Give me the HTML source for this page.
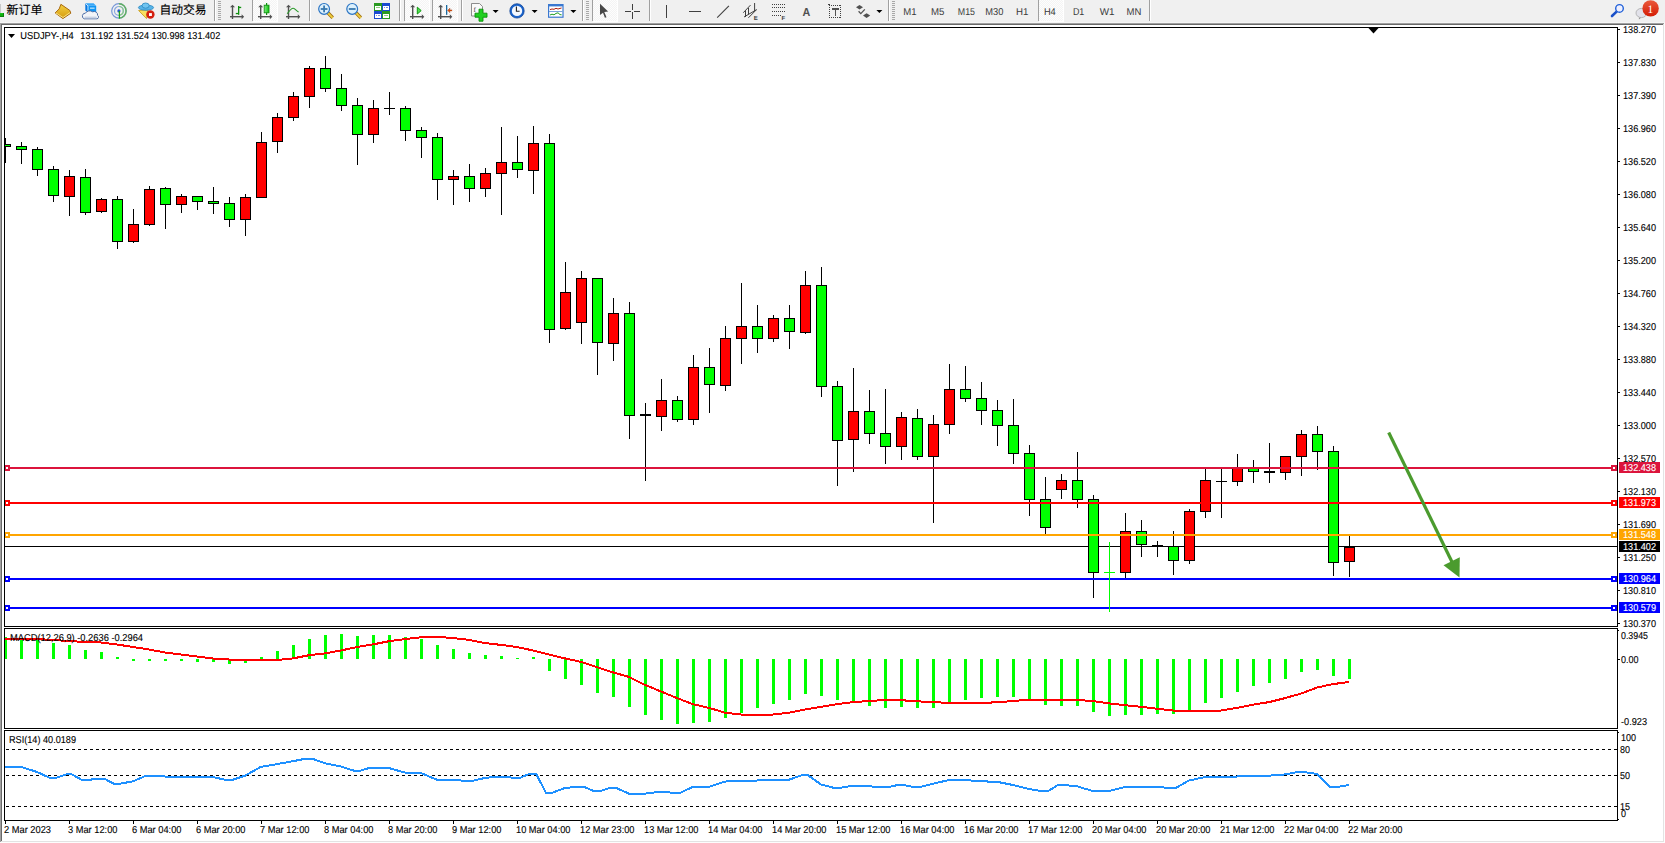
<!DOCTYPE html>
<html><head><meta charset="utf-8"><title>MT4 USDJPY H4</title>
<style>
html,body{margin:0;padding:0;background:#f0f0f0;}
body{width:1665px;height:843px;overflow:hidden;position:relative;}
svg{position:absolute;left:0;top:0;font-family:'Liberation Sans', Arial, sans-serif;text-rendering:geometricPrecision;}
.tx{stroke:currentColor;stroke-width:0.12px;paint-order:stroke;}
</style></head><body>
<svg width="1665" height="843" viewBox="0 0 1665 843" shape-rendering="crispEdges">
<defs><pattern id="dith" x="0" y="0" width="2" height="2" patternUnits="userSpaceOnUse"><rect width="2" height="2" fill="#f4f4f4"/><rect width="1" height="1" fill="#fdfdfd"/><rect x="1" y="1" width="1" height="1" fill="#fdfdfd"/></pattern><linearGradient id="gold" x1="0" y1="0" x2="0" y2="1"><stop offset="0" stop-color="#f4d040"/><stop offset="1" stop-color="#d49a10"/></linearGradient><linearGradient id="badge" x1="0" y1="0" x2="0" y2="1"><stop offset="0" stop-color="#ea5a3c"/><stop offset="1" stop-color="#d41c04"/></linearGradient><linearGradient id="cgreen" x1="0" y1="0" x2="1" y2="0"><stop offset="0" stop-color="#80f080"/><stop offset="1" stop-color="#10c010"/></linearGradient><radialGradient id="sig" cx="0.5" cy="0.5" r="0.5"><stop offset="0" stop-color="#ffffff"/><stop offset="1" stop-color="#d8e8d8"/></radialGradient></defs>
<rect x="0" y="0" width="1665" height="23" fill="#f0f0f0"/>
<rect x="0" y="22" width="1665" height="1" fill="#f6f6f6"/>
<rect x="0" y="4" width="1" height="9" fill="#c8c8c8"/>
<rect x="0" y="13" width="4" height="4" fill="#10b010"/><rect x="0" y="13" width="4" height="1" fill="#18c818"/><rect x="0" y="16" width="4" height="1" fill="#0a800a"/><rect x="3" y="13" width="1" height="4" fill="#0a800a"/>
<text x="6.5" y="14" font-size="12" font-family="'Liberation Sans','Noto Sans CJK SC',sans-serif" fill="#000" stroke="#000" stroke-width="0.15" textLength="36" lengthAdjust="spacingAndGlyphs">新订单</text>
<g shape-rendering="geometricPrecision"><polygon points="60.9,4.3 69.8,10.4 70.8,13.2 62.9,18.6 55.2,12.9 59.2,8.9" fill="url(#gold)" stroke="#a8680c" stroke-width="1"/><polyline points="56,13 63,17.5 70,12.6" fill="none" stroke="#fff2a0" stroke-width="0.8"/></g>
<g shape-rendering="geometricPrecision"><polygon points="85.3,3.3 93.6,3.3 96.2,5.8 87.9,5.8" fill="#3aa8f8"/><polygon points="85.3,3.3 87.9,5.8 87.9,12.5 85.3,10.5" fill="#0a78e0"/><rect x="87.9" y="5.8" width="8.3" height="6.7" fill="#1096f4"/><polyline points="85.6,3.6 88,6 88,12" fill="none" stroke="#e8f6ff" stroke-width="0.8"/><rect x="90" y="7.6" width="4.6" height="1.1" fill="#d8f0ff"/><path d="M84.2,18.8 A2.9,2.9 0 0 1 85.4,13.2 A5,5 0 0 1 92.6,11.8 A3.5,3.5 0 0 1 97.6,15.4 A1.8,1.8 0 0 1 96.9,18.8 Z" fill="#f2f4f8" stroke="#40609c" stroke-width="0.9"/><rect x="84.6" y="16.6" width="12" height="1.8" fill="#c8d2e4"/></g>
<g shape-rendering="geometricPrecision" fill="none"><circle cx="118.9" cy="10.9" r="7.2" stroke="#7898d8" stroke-width="1.2"/><path d="M118.9,3.7 A7.2,7.2 0 0 1 118.9,18.1" stroke="#60b060" stroke-width="1.4"/><circle cx="118.9" cy="10.9" r="4.4" stroke="#8aa8e0" stroke-width="1.2"/><path d="M118.9,6.5 A4.4,4.4 0 0 1 118.9,15.3" stroke="#88c888" stroke-width="1.2"/><circle cx="118.9" cy="10.9" r="1.6" fill="#2a5ad0"/><line x1="119.4" y1="11" x2="119.4" y2="18.6" stroke="#20a020" stroke-width="1.2"/></g>
<g shape-rendering="geometricPrecision"><polygon points="138.6,10.5 148,10 146.5,18.6" fill="#f8e060" stroke="#c89a10" stroke-width="0.8"/><ellipse cx="146" cy="7.6" rx="7.6" ry="2.6" fill="#58b4e8" stroke="#2a88c0" stroke-width="0.8"/><ellipse cx="145.6" cy="5.6" rx="3.6" ry="2.6" fill="#70c4f0" stroke="#2a88c0" stroke-width="0.8"/><circle cx="150.4" cy="14.5" r="4.2" fill="#d42010"/><rect x="149" y="13.1" width="2.9" height="2.9" fill="#fff"/></g>
<text x="159.5" y="14" font-size="12" font-family="'Liberation Sans','Noto Sans CJK SC',sans-serif" fill="#000" stroke="#000" stroke-width="0.15" textLength="47" lengthAdjust="spacingAndGlyphs">自动交易</text>
<rect x="214" y="0" width="1" height="21" fill="#a0a0a0"/><rect x="215" y="0" width="1" height="21" fill="#ffffff"/>
<rect x="218" y="1" width="3" height="1" fill="#a8a8a8"/>
<rect x="218" y="3" width="3" height="1" fill="#a8a8a8"/>
<rect x="218" y="5" width="3" height="1" fill="#a8a8a8"/>
<rect x="218" y="7" width="3" height="1" fill="#a8a8a8"/>
<rect x="218" y="9" width="3" height="1" fill="#a8a8a8"/>
<rect x="218" y="11" width="3" height="1" fill="#a8a8a8"/>
<rect x="218" y="13" width="3" height="1" fill="#a8a8a8"/>
<rect x="218" y="15" width="3" height="1" fill="#a8a8a8"/>
<rect x="218" y="17" width="3" height="1" fill="#a8a8a8"/>
<rect x="218" y="19" width="3" height="1" fill="#a8a8a8"/>
<g shape-rendering="geometricPrecision">
<g fill="#505050"><rect x="231.8" y="6" width="1.4" height="13"/><polygon points="230.0,7.2 232.5,4.7 235.0,7.2" /><rect x="230" y="16" width="12.800000000000011" height="1.4"/><polygon points="241.60000000000002,14.2 244.10000000000002,16.7 241.60000000000002,19.2"/></g>
<g fill="#109010"><rect x="238" y="6" width="1.3" height="8.8"/><rect x="238.6" y="6.8" width="2.6" height="1.3"/><rect x="235.8" y="12.9" width="2.6" height="1.3"/></g>
</g>
<rect x="252" y="0" width="1" height="21" fill="#a0a0a0"/><rect x="253" y="0" width="1" height="21" fill="#ffffff"/>
<rect x="253" y="0" width="24" height="21" fill="url(#dith)"/>
<rect x="253" y="21" width="25" height="1" fill="#ffffff"/><rect x="277" y="0" width="1" height="21" fill="#ffffff"/>
<g shape-rendering="geometricPrecision">
<g fill="#505050"><rect x="260" y="6" width="1.4" height="13"/><polygon points="258.2,7.2 260.7,4.7 263.2,7.2" /><rect x="258" y="16" width="13" height="1.4"/><polygon points="269.8,14.2 272.3,16.7 269.8,19.2"/></g>
<rect x="266" y="3" width="1.2" height="12" fill="#109010"/><rect x="264.2" y="5.2" width="4.8" height="7.6" fill="url(#cgreen)" stroke="#109010" stroke-width="0.9"/>
<g fill="#505050"><rect x="287.8" y="6" width="1.4" height="13"/><polygon points="286.0,7.2 288.5,4.7 291.0,7.2" /><rect x="286" y="16" width="13" height="1.4"/><polygon points="297.8,14.2 300.3,16.7 297.8,19.2"/></g>
<path d="M287.2,13.8 C289.5,10.5 291.5,8.2 293.2,8.2 C295,8.2 296.5,11 298.6,12" fill="none" stroke="#2a9a2a" stroke-width="1.1"/>
</g>
<rect x="309" y="0" width="1" height="21" fill="#a0a0a0"/><rect x="310" y="0" width="1" height="21" fill="#ffffff"/>
<g shape-rendering="geometricPrecision"><line x1="327.90000000000003" y1="12.8" x2="332.70000000000005" y2="17.8" stroke="#a07010" stroke-width="3.4"/><line x1="327.90000000000003" y1="12.8" x2="332.70000000000005" y2="17.8" stroke="#f0d040" stroke-width="1.8"/><circle cx="324.1" cy="8.9" r="5.4" fill="#dcf0fc" stroke="#2a74c4" stroke-width="1.2"/><rect x="320.70000000000005" y="8.1" width="6.8" height="1.8" fill="#3878b0"/><rect x="323.20000000000005" y="5.5" width="1.8" height="6.8" fill="#3878b0"/></g>
<g shape-rendering="geometricPrecision"><line x1="356.0" y1="12.8" x2="360.8" y2="17.8" stroke="#a07010" stroke-width="3.4"/><line x1="356.0" y1="12.8" x2="360.8" y2="17.8" stroke="#f0d040" stroke-width="1.8"/><circle cx="352.2" cy="8.9" r="5.4" fill="#dcf0fc" stroke="#2a74c4" stroke-width="1.2"/><rect x="348.8" y="8.1" width="6.8" height="1.8" fill="#3878b0"/></g>
<g><rect x="374" y="3" width="8" height="8" fill="#2a9a20"/><rect x="382" y="3" width="8" height="8" fill="#1a4ad0"/><rect x="374" y="11" width="8" height="8" fill="#1a4ad0"/><rect x="382" y="11" width="8" height="8" fill="#2a9a20"/><rect x="375" y="6" width="6" height="4" fill="#fff"/><rect x="383" y="6" width="6" height="4" fill="#fff"/><rect x="375" y="14" width="6" height="4" fill="#fff"/><rect x="383" y="14" width="6" height="4" fill="#fff"/><rect x="376" y="7" width="4" height="1" fill="#90d080"/><rect x="384" y="15" width="4" height="1" fill="#90d080"/><rect x="384" y="7" width="1" height="1" fill="#8090e0"/><rect x="386" y="7" width="2" height="1" fill="#8090e0"/><rect x="376" y="15" width="1" height="1" fill="#8090e0"/><rect x="378" y="15" width="2" height="1" fill="#8090e0"/></g>
<rect x="399" y="0" width="1" height="21" fill="#a0a0a0"/><rect x="400" y="0" width="1" height="21" fill="#ffffff"/>
<rect x="404" y="0" width="1" height="21" fill="#a0a0a0"/><rect x="405" y="0" width="1" height="21" fill="#ffffff"/>
<rect x="405" y="0" width="24" height="21" fill="url(#dith)"/>
<rect x="405" y="21" width="25" height="1" fill="#ffffff"/><rect x="429" y="0" width="1" height="21" fill="#ffffff"/>
<g shape-rendering="geometricPrecision">
<g fill="#505050"><rect x="412" y="6" width="1.4" height="13"/><polygon points="410.2,7.2 412.7,4.7 415.2,7.2" /><rect x="410" y="16" width="13" height="1.4"/><polygon points="421.8,14.2 424.3,16.7 421.8,19.2"/></g>
<polygon points="417.3,7.2 421.2,10.6 417.3,14" fill="#50e050" stroke="#109a10" stroke-width="1"/>
</g>
<rect x="432" y="0" width="1" height="21" fill="#a0a0a0"/><rect x="433" y="0" width="1" height="21" fill="#ffffff"/>
<rect x="433" y="0" width="24" height="21" fill="url(#dith)"/>
<rect x="433" y="21" width="25" height="1" fill="#ffffff"/><rect x="457" y="0" width="1" height="21" fill="#ffffff"/>
<g shape-rendering="geometricPrecision">
<g fill="#505050"><rect x="440" y="6" width="1.4" height="13"/><polygon points="438.2,7.2 440.7,4.7 443.2,7.2" /><rect x="438" y="16" width="13" height="1.4"/><polygon points="449.8,14.2 452.3,16.7 449.8,19.2"/></g>
<rect x="446" y="5" width="1.3" height="9.8" fill="#1a6aa0"/>
<polygon points="447.6,10.4 450,8.2 449.3,9.9 451.8,9.9 451.8,10.9 449.3,10.9 450,12.6" fill="#f06010" stroke="#a03000" stroke-width="0.5"/>
</g>
<rect x="461" y="0" width="1" height="21" fill="#a0a0a0"/><rect x="462" y="0" width="1" height="21" fill="#ffffff"/>
<g shape-rendering="geometricPrecision"><path d="M471.5,3.5 L479.5,3.5 L482.5,6.5 L482.5,16 L471.5,16 Z" fill="#fafafa" stroke="#808080" stroke-width="0.9"/><text x="473.5" y="12" font-size="7" font-family="Liberation Serif" fill="#404040">f</text><path d="M479,9.2 h4 v4 h4 v4 h-4 v4 h-4 v-4 h-4 v-4 h4 z" fill="#20d020" stroke="#0a900a" stroke-width="0.9"/></g>
<polygon points="492.6,10 498.6,10 495.6,13" fill="#000" shape-rendering="geometricPrecision"/>
<g shape-rendering="geometricPrecision"><circle cx="517" cy="10.9" r="7.2" fill="#1a64cc"/><circle cx="517" cy="10.9" r="5.2" fill="#f4f8ff"/><circle cx="517" cy="10.9" r="7.2" fill="none" stroke="#0a3c90" stroke-width="0.7"/><polyline points="516.4,6.6 516.4,11.2 519.6,11.2" fill="none" stroke="#202020" stroke-width="1.1"/></g>
<polygon points="531.6,10 537.6,10 534.6,13" fill="#000" shape-rendering="geometricPrecision"/>
<g shape-rendering="geometricPrecision"><rect x="548" y="4" width="15.6" height="13.8" fill="#3a78d0"/><rect x="549.2" y="6.4" width="13.2" height="10.2" fill="#fff"/><rect x="549" y="11" width="13.4" height="0.9" fill="#6a9ad8"/><polyline points="550,9.6 552,9 554,9.3 556,8.3 558,9 560,8.4 561.6,8" fill="none" stroke="#b02010" stroke-width="1"/><polyline points="550,15 552,14.2 554,14.8 556,13.4 558,12.8 560,14.6 561.6,14.8" fill="none" stroke="#20a020" stroke-width="1"/></g>
<polygon points="570.4,10 576.4,10 573.4,13" fill="#000" shape-rendering="geometricPrecision"/>
<rect x="582" y="0" width="1" height="21" fill="#a0a0a0"/><rect x="583" y="0" width="1" height="21" fill="#ffffff"/>
<rect x="586" y="1" width="3" height="1" fill="#a8a8a8"/>
<rect x="586" y="3" width="3" height="1" fill="#a8a8a8"/>
<rect x="586" y="5" width="3" height="1" fill="#a8a8a8"/>
<rect x="586" y="7" width="3" height="1" fill="#a8a8a8"/>
<rect x="586" y="9" width="3" height="1" fill="#a8a8a8"/>
<rect x="586" y="11" width="3" height="1" fill="#a8a8a8"/>
<rect x="586" y="13" width="3" height="1" fill="#a8a8a8"/>
<rect x="586" y="15" width="3" height="1" fill="#a8a8a8"/>
<rect x="586" y="17" width="3" height="1" fill="#a8a8a8"/>
<rect x="586" y="19" width="3" height="1" fill="#a8a8a8"/>
<rect x="592" y="0" width="1" height="21" fill="#a0a0a0"/><rect x="593" y="0" width="1" height="21" fill="#ffffff"/>
<rect x="593" y="0" width="24" height="21" fill="url(#dith)"/>
<rect x="593" y="21" width="25" height="1" fill="#ffffff"/><rect x="617" y="0" width="1" height="21" fill="#ffffff"/>
<polygon points="600,3.8 600,14.9 603,12.7 604.9,17.8 606.5,17.3 604.3,11.9 608.1,11.6" fill="#484848" shape-rendering="geometricPrecision"/>
<g fill="#404040"><rect x="632" y="4" width="1.4" height="6.4"/><rect x="632" y="12.4" width="1.4" height="6.6"/><rect x="625" y="10.8" width="6.4" height="1.4"/><rect x="634" y="10.8" width="6.2" height="1.4"/></g>
<rect x="649" y="0" width="1" height="21" fill="#a0a0a0"/><rect x="650" y="0" width="1" height="21" fill="#ffffff"/>
<rect x="666" y="5" width="1.4" height="13" fill="#404040"/>
<rect x="689" y="10.8" width="12" height="1.4" fill="#404040"/>
<line x1="717.2" y1="17.6" x2="728.9" y2="5.8" stroke="#404040" stroke-width="1.1" shape-rendering="geometricPrecision"/>
<g shape-rendering="geometricPrecision" stroke="#404040" stroke-width="1" fill="none"><line x1="743.3" y1="12.7" x2="750.5" y2="5.1"/><line x1="744" y1="17" x2="756.8" y2="9.5"/><line x1="748.4" y1="17.8" x2="756" y2="10.2"/><line x1="745.5" y1="10.5" x2="745.5" y2="17"/><line x1="748.5" y1="8" x2="748.5" y2="14.5"/><line x1="754.6" y1="3" x2="754.6" y2="11"/></g>
<text x="753.8" y="19.6" font-size="6" font-weight="bold" fill="#404040" font-family="Liberation Sans">E</text>
<rect x="772" y="4" width="1" height="1" fill="#404040"/>
<rect x="774" y="4" width="1" height="1" fill="#404040"/>
<rect x="776" y="4" width="1" height="1" fill="#404040"/>
<rect x="778" y="4" width="1" height="1" fill="#404040"/>
<rect x="780" y="4" width="1" height="1" fill="#404040"/>
<rect x="782" y="4" width="1" height="1" fill="#404040"/>
<rect x="784" y="4" width="1" height="1" fill="#404040"/>
<rect x="772" y="7" width="1" height="1" fill="#404040"/>
<rect x="774" y="7" width="1" height="1" fill="#404040"/>
<rect x="776" y="7" width="1" height="1" fill="#404040"/>
<rect x="778" y="7" width="1" height="1" fill="#404040"/>
<rect x="780" y="7" width="1" height="1" fill="#404040"/>
<rect x="782" y="7" width="1" height="1" fill="#404040"/>
<rect x="784" y="7" width="1" height="1" fill="#404040"/>
<rect x="772" y="11" width="1" height="1" fill="#404040"/>
<rect x="774" y="11" width="1" height="1" fill="#404040"/>
<rect x="776" y="11" width="1" height="1" fill="#404040"/>
<rect x="778" y="11" width="1" height="1" fill="#404040"/>
<rect x="780" y="11" width="1" height="1" fill="#404040"/>
<rect x="782" y="11" width="1" height="1" fill="#404040"/>
<rect x="784" y="11" width="1" height="1" fill="#404040"/>
<rect x="772" y="15" width="1" height="1" fill="#404040"/>
<rect x="774" y="15" width="1" height="1" fill="#404040"/>
<rect x="776" y="15" width="1" height="1" fill="#404040"/>
<rect x="778" y="15" width="1" height="1" fill="#404040"/>
<rect x="780" y="15" width="1" height="1" fill="#404040"/>
<text x="781.5" y="19.6" font-size="6" font-weight="bold" fill="#404040" font-family="Liberation Sans">F</text>
<text x="802.6" y="16" font-size="11.5" font-weight="bold" fill="#505050" font-family="Liberation Sans" textLength="7.8" lengthAdjust="spacingAndGlyphs">A</text>
<rect x="829" y="5" width="1" height="1" fill="#404040"/><rect x="829" y="17" width="1" height="1" fill="#404040"/>
<rect x="831" y="5" width="1" height="1" fill="#404040"/><rect x="831" y="17" width="1" height="1" fill="#404040"/>
<rect x="833" y="5" width="1" height="1" fill="#404040"/><rect x="833" y="17" width="1" height="1" fill="#404040"/>
<rect x="835" y="5" width="1" height="1" fill="#404040"/><rect x="835" y="17" width="1" height="1" fill="#404040"/>
<rect x="837" y="5" width="1" height="1" fill="#404040"/><rect x="837" y="17" width="1" height="1" fill="#404040"/>
<rect x="839" y="5" width="1" height="1" fill="#404040"/><rect x="839" y="17" width="1" height="1" fill="#404040"/>
<rect x="829" y="5" width="1" height="1" fill="#404040"/><rect x="840" y="5" width="1" height="1" fill="#404040"/>
<rect x="829" y="7" width="1" height="1" fill="#404040"/><rect x="840" y="7" width="1" height="1" fill="#404040"/>
<rect x="829" y="9" width="1" height="1" fill="#404040"/><rect x="840" y="9" width="1" height="1" fill="#404040"/>
<rect x="829" y="11" width="1" height="1" fill="#404040"/><rect x="840" y="11" width="1" height="1" fill="#404040"/>
<rect x="829" y="13" width="1" height="1" fill="#404040"/><rect x="840" y="13" width="1" height="1" fill="#404040"/>
<rect x="829" y="15" width="1" height="1" fill="#404040"/><rect x="840" y="15" width="1" height="1" fill="#404040"/>
<rect x="829" y="17" width="1" height="1" fill="#404040"/><rect x="840" y="17" width="1" height="1" fill="#404040"/>
<rect x="828" y="4" width="2" height="1" fill="#404040"/>
<g fill="#505050"><rect x="832" y="8" width="7" height="1.6"/><rect x="834.7" y="8" width="1.6" height="8"/></g>
<g shape-rendering="geometricPrecision" fill="#505050"><polygon points="859.5,5 863,7.3 859.5,9.5 856,7.3"/><polygon points="866.6,13.2 870.2,15.6 866.6,18 863,15.6"/><polyline points="858.6,11.2 860.8,13.6 864.8,9.4" fill="none" stroke="#505050" stroke-width="1.3"/></g>
<polygon points="876.4,10 882.4,10 879.4,13" fill="#000" shape-rendering="geometricPrecision"/>
<rect x="888" y="0" width="1" height="21" fill="#a0a0a0"/><rect x="889" y="0" width="1" height="21" fill="#ffffff"/>
<rect x="892" y="1" width="3" height="1" fill="#a8a8a8"/>
<rect x="892" y="3" width="3" height="1" fill="#a8a8a8"/>
<rect x="892" y="5" width="3" height="1" fill="#a8a8a8"/>
<rect x="892" y="7" width="3" height="1" fill="#a8a8a8"/>
<rect x="892" y="9" width="3" height="1" fill="#a8a8a8"/>
<rect x="892" y="11" width="3" height="1" fill="#a8a8a8"/>
<rect x="892" y="13" width="3" height="1" fill="#a8a8a8"/>
<rect x="892" y="15" width="3" height="1" fill="#a8a8a8"/>
<rect x="892" y="17" width="3" height="1" fill="#a8a8a8"/>
<rect x="892" y="19" width="3" height="1" fill="#a8a8a8"/>
<rect x="1039" y="0" width="24" height="21" fill="url(#dith)"/>
<rect x="1039" y="21" width="25" height="1" fill="#ffffff"/><rect x="1063" y="0" width="1" height="21" fill="#ffffff"/>
<rect x="1038" y="0" width="1" height="21" fill="#a0a0a0"/>
<text x="903.2" y="15" font-size="10" font-family="Liberation Sans" fill="#3a3a3a" textLength="13.3" lengthAdjust="spacingAndGlyphs">M1</text>
<text x="931" y="15" font-size="10" font-family="Liberation Sans" fill="#3a3a3a" textLength="13.4" lengthAdjust="spacingAndGlyphs">M5</text>
<text x="957.8" y="15" font-size="10" font-family="Liberation Sans" fill="#3a3a3a" textLength="17.2" lengthAdjust="spacingAndGlyphs">M15</text>
<text x="985.3" y="15" font-size="10" font-family="Liberation Sans" fill="#3a3a3a" textLength="18.1" lengthAdjust="spacingAndGlyphs">M30</text>
<text x="1016" y="15" font-size="10" font-family="Liberation Sans" fill="#3a3a3a" textLength="12.4" lengthAdjust="spacingAndGlyphs">H1</text>
<text x="1043.9" y="15" font-size="10" font-family="Liberation Sans" fill="#3a3a3a" textLength="11.9" lengthAdjust="spacingAndGlyphs">H4</text>
<text x="1072.9" y="15" font-size="10" font-family="Liberation Sans" fill="#3a3a3a" textLength="11.4" lengthAdjust="spacingAndGlyphs">D1</text>
<text x="1099.7" y="15" font-size="10" font-family="Liberation Sans" fill="#3a3a3a" textLength="14.8" lengthAdjust="spacingAndGlyphs">W1</text>
<text x="1126.6" y="15" font-size="10" font-family="Liberation Sans" fill="#3a3a3a" textLength="14.8" lengthAdjust="spacingAndGlyphs">MN</text>
<rect x="1149" y="0" width="1" height="21" fill="#a0a0a0"/><rect x="1150" y="0" width="1" height="21" fill="#ffffff"/>
<g shape-rendering="geometricPrecision"><line x1="1616.6" y1="11.6" x2="1612" y2="16" stroke="#1a50c8" stroke-width="2.6" stroke-linecap="round"/><circle cx="1619.5" cy="8.4" r="3.8" fill="#eef0ff" stroke="#2060d8" stroke-width="1.4"/></g>
<g shape-rendering="geometricPrecision"><path d="M1639,17.5 L1638.8,19.6 L1641.5,17.6 Z" fill="#909090"/><ellipse cx="1641.4" cy="13" rx="5.4" ry="4.6" fill="#e2e2ea" stroke="#a8a8a8" stroke-width="0.8"/><circle cx="1650.6" cy="8.4" r="8.2" fill="url(#badge)"/><text x="1650.4" y="12.9" font-size="11.5" font-family="Liberation Serif" fill="#ffffff" text-anchor="middle">1</text></g>
<rect x="0" y="23" width="1665" height="820" fill="#ffffff"/>
<rect x="0" y="23" width="1664" height="1" fill="#a0a0a0"/>
<rect x="0" y="23" width="1" height="819" fill="#a0a0a0"/>
<rect x="1" y="24" width="1662" height="1" fill="#696969"/>
<rect x="1" y="24" width="1" height="817" fill="#696969"/>
<rect x="1663" y="24" width="1" height="818" fill="#e3e3e3"/>
<rect x="1" y="841" width="1663" height="1" fill="#e3e3e3"/>
<rect x="1664" y="23" width="1" height="820" fill="#fdfdfd"/>
<rect x="0" y="842" width="1665" height="1" fill="#fdfdfd"/>
<defs><clipPath id="cm"><rect x="5" y="28" width="1612" height="598"/></clipPath><clipPath id="cmacd"><rect x="5" y="629" width="1612" height="99"/></clipPath><clipPath id="crsi"><rect x="5" y="731" width="1612" height="89"/></clipPath></defs>
<g clip-path="url(#cm)">
<rect x="5" y="546" width="1612" height="1" fill="#000"/>
<rect x="5" y="138" width="1" height="25" fill="#000"/>
<rect x="21" y="142" width="1" height="22" fill="#000"/>
<rect x="37" y="147" width="1" height="29" fill="#000"/>
<rect x="53" y="166" width="1" height="36" fill="#000"/>
<rect x="69" y="170" width="1" height="46" fill="#000"/>
<rect x="85" y="169" width="1" height="46" fill="#000"/>
<rect x="101" y="198" width="1" height="15" fill="#000"/>
<rect x="117" y="196" width="1" height="53" fill="#000"/>
<rect x="133" y="209" width="1" height="34" fill="#000"/>
<rect x="149" y="186" width="1" height="40" fill="#000"/>
<rect x="165" y="187" width="1" height="42" fill="#000"/>
<rect x="181" y="194" width="1" height="19" fill="#000"/>
<rect x="197" y="196" width="1" height="14" fill="#000"/>
<rect x="213" y="187" width="1" height="27" fill="#000"/>
<rect x="229" y="197" width="1" height="30" fill="#000"/>
<rect x="245" y="194" width="1" height="42" fill="#000"/>
<rect x="261" y="132" width="1" height="65" fill="#000"/>
<rect x="277" y="113" width="1" height="40" fill="#000"/>
<rect x="293" y="92" width="1" height="29" fill="#000"/>
<rect x="309" y="66" width="1" height="42" fill="#000"/>
<rect x="325" y="56" width="1" height="36" fill="#000"/>
<rect x="341" y="74" width="1" height="37" fill="#000"/>
<rect x="357" y="98" width="1" height="67" fill="#000"/>
<rect x="373" y="100" width="1" height="43" fill="#000"/>
<rect x="389" y="92" width="1" height="23" fill="#000"/>
<rect x="405" y="106" width="1" height="35" fill="#000"/>
<rect x="421" y="127" width="1" height="31" fill="#000"/>
<rect x="437" y="133" width="1" height="67" fill="#000"/>
<rect x="453" y="170" width="1" height="35" fill="#000"/>
<rect x="469" y="164" width="1" height="38" fill="#000"/>
<rect x="485" y="168" width="1" height="29" fill="#000"/>
<rect x="501" y="127" width="1" height="88" fill="#000"/>
<rect x="517" y="136" width="1" height="42" fill="#000"/>
<rect x="533" y="126" width="1" height="68" fill="#000"/>
<rect x="549" y="134" width="1" height="209" fill="#000"/>
<rect x="565" y="262" width="1" height="68" fill="#000"/>
<rect x="581" y="271" width="1" height="73" fill="#000"/>
<rect x="597" y="278" width="1" height="97" fill="#000"/>
<rect x="613" y="298" width="1" height="63" fill="#000"/>
<rect x="629" y="302" width="1" height="137" fill="#000"/>
<rect x="645" y="403" width="1" height="78" fill="#000"/>
<rect x="661" y="379" width="1" height="52" fill="#000"/>
<rect x="677" y="396" width="1" height="26" fill="#000"/>
<rect x="693" y="355" width="1" height="70" fill="#000"/>
<rect x="709" y="348" width="1" height="65" fill="#000"/>
<rect x="725" y="326" width="1" height="65" fill="#000"/>
<rect x="741" y="283" width="1" height="81" fill="#000"/>
<rect x="757" y="305" width="1" height="48" fill="#000"/>
<rect x="773" y="315" width="1" height="27" fill="#000"/>
<rect x="789" y="305" width="1" height="44" fill="#000"/>
<rect x="805" y="271" width="1" height="63" fill="#000"/>
<rect x="821" y="267" width="1" height="130" fill="#000"/>
<rect x="837" y="381" width="1" height="105" fill="#000"/>
<rect x="853" y="368" width="1" height="104" fill="#000"/>
<rect x="869" y="390" width="1" height="54" fill="#000"/>
<rect x="885" y="389" width="1" height="75" fill="#000"/>
<rect x="901" y="412" width="1" height="48" fill="#000"/>
<rect x="917" y="409" width="1" height="51" fill="#000"/>
<rect x="933" y="415" width="1" height="108" fill="#000"/>
<rect x="949" y="364" width="1" height="70" fill="#000"/>
<rect x="965" y="366" width="1" height="36" fill="#000"/>
<rect x="981" y="382" width="1" height="43" fill="#000"/>
<rect x="997" y="400" width="1" height="46" fill="#000"/>
<rect x="1013" y="399" width="1" height="65" fill="#000"/>
<rect x="1029" y="445" width="1" height="71" fill="#000"/>
<rect x="1045" y="477" width="1" height="57" fill="#000"/>
<rect x="1061" y="474" width="1" height="25" fill="#000"/>
<rect x="1077" y="452" width="1" height="56" fill="#000"/>
<rect x="1093" y="495" width="1" height="103" fill="#000"/>
<rect x="1125" y="513" width="1" height="65" fill="#000"/>
<rect x="1141" y="520" width="1" height="37" fill="#000"/>
<rect x="1157" y="541" width="1" height="16" fill="#000"/>
<rect x="1173" y="531" width="1" height="44" fill="#000"/>
<rect x="1189" y="509" width="1" height="55" fill="#000"/>
<rect x="1205" y="469" width="1" height="49" fill="#000"/>
<rect x="1221" y="469" width="1" height="49" fill="#000"/>
<rect x="1237" y="454" width="1" height="32" fill="#000"/>
<rect x="1253" y="460" width="1" height="23" fill="#000"/>
<rect x="1269" y="443" width="1" height="40" fill="#000"/>
<rect x="1285" y="456" width="1" height="24" fill="#000"/>
<rect x="1301" y="430" width="1" height="46" fill="#000"/>
<rect x="1317" y="426" width="1" height="44" fill="#000"/>
<rect x="1333" y="446" width="1" height="130" fill="#000"/>
<rect x="1349" y="536" width="1" height="41" fill="#000"/>
<rect x="0" y="144" width="11" height="3" fill="#000"/>
<rect x="1" y="145" width="9" height="1" fill="#00ff00"/>
<rect x="16" y="146" width="11" height="4" fill="#000"/>
<rect x="17" y="147" width="9" height="2" fill="#00ff00"/>
<rect x="32" y="149" width="11" height="21" fill="#000"/>
<rect x="33" y="150" width="9" height="19" fill="#00ff00"/>
<rect x="48" y="169" width="11" height="27" fill="#000"/>
<rect x="49" y="170" width="9" height="25" fill="#00ff00"/>
<rect x="64" y="176" width="11" height="21" fill="#000"/>
<rect x="65" y="177" width="9" height="19" fill="#ff0000"/>
<rect x="80" y="177" width="11" height="36" fill="#000"/>
<rect x="81" y="178" width="9" height="34" fill="#00ff00"/>
<rect x="96" y="199" width="11" height="13" fill="#000"/>
<rect x="97" y="200" width="9" height="11" fill="#ff0000"/>
<rect x="112" y="199" width="11" height="43" fill="#000"/>
<rect x="113" y="200" width="9" height="41" fill="#00ff00"/>
<rect x="128" y="224" width="11" height="18" fill="#000"/>
<rect x="129" y="225" width="9" height="16" fill="#ff0000"/>
<rect x="144" y="189" width="11" height="36" fill="#000"/>
<rect x="145" y="190" width="9" height="34" fill="#ff0000"/>
<rect x="160" y="188" width="11" height="17" fill="#000"/>
<rect x="161" y="189" width="9" height="15" fill="#00ff00"/>
<rect x="176" y="196" width="11" height="9" fill="#000"/>
<rect x="177" y="197" width="9" height="7" fill="#ff0000"/>
<rect x="192" y="196" width="11" height="6" fill="#000"/>
<rect x="193" y="197" width="9" height="4" fill="#00ff00"/>
<rect x="208" y="201" width="11" height="3" fill="#000"/>
<rect x="209" y="202" width="9" height="1" fill="#00ff00"/>
<rect x="224" y="203" width="11" height="17" fill="#000"/>
<rect x="225" y="204" width="9" height="15" fill="#00ff00"/>
<rect x="240" y="197" width="11" height="23" fill="#000"/>
<rect x="241" y="198" width="9" height="21" fill="#ff0000"/>
<rect x="256" y="142" width="11" height="56" fill="#000"/>
<rect x="257" y="143" width="9" height="54" fill="#ff0000"/>
<rect x="272" y="117" width="11" height="25" fill="#000"/>
<rect x="273" y="118" width="9" height="23" fill="#ff0000"/>
<rect x="288" y="96" width="11" height="22" fill="#000"/>
<rect x="289" y="97" width="9" height="20" fill="#ff0000"/>
<rect x="304" y="68" width="11" height="29" fill="#000"/>
<rect x="305" y="69" width="9" height="27" fill="#ff0000"/>
<rect x="320" y="68" width="11" height="21" fill="#000"/>
<rect x="321" y="69" width="9" height="19" fill="#00ff00"/>
<rect x="336" y="88" width="11" height="18" fill="#000"/>
<rect x="337" y="89" width="9" height="16" fill="#00ff00"/>
<rect x="352" y="105" width="11" height="30" fill="#000"/>
<rect x="353" y="106" width="9" height="28" fill="#00ff00"/>
<rect x="368" y="108" width="11" height="27" fill="#000"/>
<rect x="369" y="109" width="9" height="25" fill="#ff0000"/>
<rect x="384" y="108" width="11" height="1" fill="#000"/>
<rect x="400" y="108" width="11" height="23" fill="#000"/>
<rect x="401" y="109" width="9" height="21" fill="#00ff00"/>
<rect x="416" y="130" width="11" height="8" fill="#000"/>
<rect x="417" y="131" width="9" height="6" fill="#00ff00"/>
<rect x="432" y="137" width="11" height="43" fill="#000"/>
<rect x="433" y="138" width="9" height="41" fill="#00ff00"/>
<rect x="448" y="176" width="11" height="4" fill="#000"/>
<rect x="449" y="177" width="9" height="2" fill="#ff0000"/>
<rect x="464" y="176" width="11" height="13" fill="#000"/>
<rect x="465" y="177" width="9" height="11" fill="#00ff00"/>
<rect x="480" y="173" width="11" height="16" fill="#000"/>
<rect x="481" y="174" width="9" height="14" fill="#ff0000"/>
<rect x="496" y="162" width="11" height="12" fill="#000"/>
<rect x="497" y="163" width="9" height="10" fill="#ff0000"/>
<rect x="512" y="162" width="11" height="8" fill="#000"/>
<rect x="513" y="163" width="9" height="6" fill="#00ff00"/>
<rect x="528" y="143" width="11" height="28" fill="#000"/>
<rect x="529" y="144" width="9" height="26" fill="#ff0000"/>
<rect x="544" y="143" width="11" height="187" fill="#000"/>
<rect x="545" y="144" width="9" height="185" fill="#00ff00"/>
<rect x="560" y="292" width="11" height="37" fill="#000"/>
<rect x="561" y="293" width="9" height="35" fill="#ff0000"/>
<rect x="576" y="278" width="11" height="45" fill="#000"/>
<rect x="577" y="279" width="9" height="43" fill="#ff0000"/>
<rect x="592" y="278" width="11" height="65" fill="#000"/>
<rect x="593" y="279" width="9" height="63" fill="#00ff00"/>
<rect x="608" y="313" width="11" height="31" fill="#000"/>
<rect x="609" y="314" width="9" height="29" fill="#ff0000"/>
<rect x="624" y="313" width="11" height="103" fill="#000"/>
<rect x="625" y="314" width="9" height="101" fill="#00ff00"/>
<rect x="640" y="414" width="11" height="2" fill="#000"/>
<rect x="656" y="400" width="11" height="17" fill="#000"/>
<rect x="657" y="401" width="9" height="15" fill="#ff0000"/>
<rect x="672" y="400" width="11" height="20" fill="#000"/>
<rect x="673" y="401" width="9" height="18" fill="#00ff00"/>
<rect x="688" y="367" width="11" height="53" fill="#000"/>
<rect x="689" y="368" width="9" height="51" fill="#ff0000"/>
<rect x="704" y="367" width="11" height="18" fill="#000"/>
<rect x="705" y="368" width="9" height="16" fill="#00ff00"/>
<rect x="720" y="338" width="11" height="48" fill="#000"/>
<rect x="721" y="339" width="9" height="46" fill="#ff0000"/>
<rect x="736" y="326" width="11" height="13" fill="#000"/>
<rect x="737" y="327" width="9" height="11" fill="#ff0000"/>
<rect x="752" y="326" width="11" height="13" fill="#000"/>
<rect x="753" y="327" width="9" height="11" fill="#00ff00"/>
<rect x="768" y="318" width="11" height="21" fill="#000"/>
<rect x="769" y="319" width="9" height="19" fill="#ff0000"/>
<rect x="784" y="318" width="11" height="14" fill="#000"/>
<rect x="785" y="319" width="9" height="12" fill="#00ff00"/>
<rect x="800" y="285" width="11" height="48" fill="#000"/>
<rect x="801" y="286" width="9" height="46" fill="#ff0000"/>
<rect x="816" y="285" width="11" height="102" fill="#000"/>
<rect x="817" y="286" width="9" height="100" fill="#00ff00"/>
<rect x="832" y="386" width="11" height="55" fill="#000"/>
<rect x="833" y="387" width="9" height="53" fill="#00ff00"/>
<rect x="848" y="411" width="11" height="29" fill="#000"/>
<rect x="849" y="412" width="9" height="27" fill="#ff0000"/>
<rect x="864" y="411" width="11" height="23" fill="#000"/>
<rect x="865" y="412" width="9" height="21" fill="#00ff00"/>
<rect x="880" y="433" width="11" height="14" fill="#000"/>
<rect x="881" y="434" width="9" height="12" fill="#00ff00"/>
<rect x="896" y="417" width="11" height="30" fill="#000"/>
<rect x="897" y="418" width="9" height="28" fill="#ff0000"/>
<rect x="912" y="418" width="11" height="39" fill="#000"/>
<rect x="913" y="419" width="9" height="37" fill="#00ff00"/>
<rect x="928" y="424" width="11" height="33" fill="#000"/>
<rect x="929" y="425" width="9" height="31" fill="#ff0000"/>
<rect x="944" y="389" width="11" height="36" fill="#000"/>
<rect x="945" y="390" width="9" height="34" fill="#ff0000"/>
<rect x="960" y="389" width="11" height="10" fill="#000"/>
<rect x="961" y="390" width="9" height="8" fill="#00ff00"/>
<rect x="976" y="398" width="11" height="13" fill="#000"/>
<rect x="977" y="399" width="9" height="11" fill="#00ff00"/>
<rect x="992" y="410" width="11" height="16" fill="#000"/>
<rect x="993" y="411" width="9" height="14" fill="#00ff00"/>
<rect x="1008" y="425" width="11" height="29" fill="#000"/>
<rect x="1009" y="426" width="9" height="27" fill="#00ff00"/>
<rect x="1024" y="453" width="11" height="47" fill="#000"/>
<rect x="1025" y="454" width="9" height="45" fill="#00ff00"/>
<rect x="1040" y="499" width="11" height="29" fill="#000"/>
<rect x="1041" y="500" width="9" height="27" fill="#00ff00"/>
<rect x="1056" y="480" width="11" height="10" fill="#000"/>
<rect x="1057" y="481" width="9" height="8" fill="#ff0000"/>
<rect x="1072" y="480" width="11" height="20" fill="#000"/>
<rect x="1073" y="481" width="9" height="18" fill="#00ff00"/>
<rect x="1088" y="499" width="11" height="74" fill="#000"/>
<rect x="1089" y="500" width="9" height="72" fill="#00ff00"/>
<rect x="1120" y="531" width="11" height="42" fill="#000"/>
<rect x="1121" y="532" width="9" height="40" fill="#ff0000"/>
<rect x="1136" y="531" width="11" height="14" fill="#000"/>
<rect x="1137" y="532" width="9" height="12" fill="#00ff00"/>
<rect x="1152" y="545" width="11" height="1" fill="#000"/>
<rect x="1168" y="546" width="11" height="15" fill="#000"/>
<rect x="1169" y="547" width="9" height="13" fill="#00ff00"/>
<rect x="1184" y="511" width="11" height="50" fill="#000"/>
<rect x="1185" y="512" width="9" height="48" fill="#ff0000"/>
<rect x="1200" y="480" width="11" height="32" fill="#000"/>
<rect x="1201" y="481" width="9" height="30" fill="#ff0000"/>
<rect x="1216" y="481" width="11" height="1" fill="#000"/>
<rect x="1232" y="468" width="11" height="14" fill="#000"/>
<rect x="1233" y="469" width="9" height="12" fill="#ff0000"/>
<rect x="1248" y="468" width="11" height="4" fill="#000"/>
<rect x="1249" y="469" width="9" height="2" fill="#00ff00"/>
<rect x="1264" y="471" width="11" height="2" fill="#000"/>
<rect x="1280" y="456" width="11" height="17" fill="#000"/>
<rect x="1281" y="457" width="9" height="15" fill="#ff0000"/>
<rect x="1296" y="434" width="11" height="23" fill="#000"/>
<rect x="1297" y="435" width="9" height="21" fill="#ff0000"/>
<rect x="1312" y="434" width="11" height="18" fill="#000"/>
<rect x="1313" y="435" width="9" height="16" fill="#00ff00"/>
<rect x="1328" y="451" width="11" height="112" fill="#000"/>
<rect x="1329" y="452" width="9" height="110" fill="#00ff00"/>
<rect x="1344" y="547" width="11" height="15" fill="#000"/>
<rect x="1345" y="548" width="9" height="13" fill="#ff0000"/>
<rect x="5" y="467" width="1612" height="2" fill="#dc143c"/>
<rect x="4" y="465" width="6" height="6" fill="#dc143c"/>
<rect x="6" y="467" width="2" height="2" fill="#fff"/>
<rect x="1611" y="465" width="6" height="6" fill="#dc143c"/>
<rect x="1613" y="467" width="2" height="2" fill="#fff"/>
<rect x="5" y="502" width="1612" height="2" fill="#ff0000"/>
<rect x="4" y="500" width="6" height="6" fill="#ff0000"/>
<rect x="6" y="502" width="2" height="2" fill="#fff"/>
<rect x="1611" y="500" width="6" height="6" fill="#ff0000"/>
<rect x="1613" y="502" width="2" height="2" fill="#fff"/>
<rect x="5" y="534" width="1612" height="2" fill="#ffa500"/>
<rect x="4" y="532" width="6" height="6" fill="#ffa500"/>
<rect x="6" y="534" width="2" height="2" fill="#fff"/>
<rect x="1611" y="532" width="6" height="6" fill="#ffa500"/>
<rect x="1613" y="534" width="2" height="2" fill="#fff"/>
<rect x="5" y="578" width="1612" height="2" fill="#0000ff"/>
<rect x="4" y="576" width="6" height="6" fill="#0000ff"/>
<rect x="6" y="578" width="2" height="2" fill="#fff"/>
<rect x="1611" y="576" width="6" height="6" fill="#0000ff"/>
<rect x="1613" y="578" width="2" height="2" fill="#fff"/>
<rect x="5" y="607" width="1612" height="2" fill="#0000ff"/>
<rect x="4" y="605" width="6" height="6" fill="#0000ff"/>
<rect x="6" y="607" width="2" height="2" fill="#fff"/>
<rect x="1611" y="605" width="6" height="6" fill="#0000ff"/>
<rect x="1613" y="607" width="2" height="2" fill="#fff"/>
<rect x="1109" y="542" width="1" height="70" fill="#00ff00"/>
<rect x="1104" y="572" width="11" height="1" fill="#00ff00"/>
<g shape-rendering="geometricPrecision"><line x1="1388.7" y1="432.5" x2="1453" y2="564" stroke="#4b9b2e" stroke-width="3.2"/><polygon points="1459.5,577.5 1443.5,565.3 1459.8,557.2" fill="#4b9b2e"/></g>
</g>
<rect x="4.5" y="27.5" width="1613" height="599" fill="none" stroke="#000" stroke-width="1"/>
<polygon points="1368,27.5 1379,27.5 1373.5,33.6" fill="#000" shape-rendering="geometricPrecision"/>
<polygon points="8,34 15,34 11.5,38" fill="#000" shape-rendering="geometricPrecision"/>
<text class="tx" x="20.3" y="39" font-size="10" fill="#000" color="#000" textLength="53.4" lengthAdjust="spacingAndGlyphs">USDJPY-,H4</text>
<text class="tx" x="80.3" y="39" font-size="10" fill="#000" color="#000" textLength="140" lengthAdjust="spacingAndGlyphs">131.192 131.524 130.998 131.402</text>
<rect x="1618" y="623" width="2" height="1" fill="#000"/>
<text class="tx" x="1623" y="627" font-size="10" fill="#000" color="#000" textLength="33" lengthAdjust="spacingAndGlyphs">130.370</text>
<rect x="1618" y="590" width="2" height="1" fill="#000"/>
<text class="tx" x="1623" y="594" font-size="10" fill="#000" color="#000" textLength="33" lengthAdjust="spacingAndGlyphs">130.810</text>
<rect x="1618" y="557" width="2" height="1" fill="#000"/>
<text class="tx" x="1623" y="561" font-size="10" fill="#000" color="#000" textLength="33" lengthAdjust="spacingAndGlyphs">131.250</text>
<rect x="1618" y="524" width="2" height="1" fill="#000"/>
<text class="tx" x="1623" y="528" font-size="10" fill="#000" color="#000" textLength="33" lengthAdjust="spacingAndGlyphs">131.690</text>
<rect x="1618" y="491" width="2" height="1" fill="#000"/>
<text class="tx" x="1623" y="495" font-size="10" fill="#000" color="#000" textLength="33" lengthAdjust="spacingAndGlyphs">132.130</text>
<rect x="1618" y="458" width="2" height="1" fill="#000"/>
<text class="tx" x="1623" y="462" font-size="10" fill="#000" color="#000" textLength="33" lengthAdjust="spacingAndGlyphs">132.570</text>
<rect x="1618" y="425" width="2" height="1" fill="#000"/>
<text class="tx" x="1623" y="429" font-size="10" fill="#000" color="#000" textLength="33" lengthAdjust="spacingAndGlyphs">133.000</text>
<rect x="1618" y="392" width="2" height="1" fill="#000"/>
<text class="tx" x="1623" y="396" font-size="10" fill="#000" color="#000" textLength="33" lengthAdjust="spacingAndGlyphs">133.440</text>
<rect x="1618" y="359" width="2" height="1" fill="#000"/>
<text class="tx" x="1623" y="363" font-size="10" fill="#000" color="#000" textLength="33" lengthAdjust="spacingAndGlyphs">133.880</text>
<rect x="1618" y="326" width="2" height="1" fill="#000"/>
<text class="tx" x="1623" y="330" font-size="10" fill="#000" color="#000" textLength="33" lengthAdjust="spacingAndGlyphs">134.320</text>
<rect x="1618" y="293" width="2" height="1" fill="#000"/>
<text class="tx" x="1623" y="297" font-size="10" fill="#000" color="#000" textLength="33" lengthAdjust="spacingAndGlyphs">134.760</text>
<rect x="1618" y="260" width="2" height="1" fill="#000"/>
<text class="tx" x="1623" y="264" font-size="10" fill="#000" color="#000" textLength="33" lengthAdjust="spacingAndGlyphs">135.200</text>
<rect x="1618" y="227" width="2" height="1" fill="#000"/>
<text class="tx" x="1623" y="231" font-size="10" fill="#000" color="#000" textLength="33" lengthAdjust="spacingAndGlyphs">135.640</text>
<rect x="1618" y="194" width="2" height="1" fill="#000"/>
<text class="tx" x="1623" y="198" font-size="10" fill="#000" color="#000" textLength="33" lengthAdjust="spacingAndGlyphs">136.080</text>
<rect x="1618" y="161" width="2" height="1" fill="#000"/>
<text class="tx" x="1623" y="165" font-size="10" fill="#000" color="#000" textLength="33" lengthAdjust="spacingAndGlyphs">136.520</text>
<rect x="1618" y="128" width="2" height="1" fill="#000"/>
<text class="tx" x="1623" y="132" font-size="10" fill="#000" color="#000" textLength="33" lengthAdjust="spacingAndGlyphs">136.960</text>
<rect x="1618" y="95" width="2" height="1" fill="#000"/>
<text class="tx" x="1623" y="99" font-size="10" fill="#000" color="#000" textLength="33" lengthAdjust="spacingAndGlyphs">137.390</text>
<rect x="1618" y="62" width="2" height="1" fill="#000"/>
<text class="tx" x="1623" y="66" font-size="10" fill="#000" color="#000" textLength="33" lengthAdjust="spacingAndGlyphs">137.830</text>
<rect x="1618" y="29" width="2" height="1" fill="#000"/>
<text class="tx" x="1623" y="33" font-size="10" fill="#000" color="#000" textLength="33" lengthAdjust="spacingAndGlyphs">138.270</text>
<rect x="1619" y="462" width="41" height="11" fill="#dc143c"/>
<text class="tx" x="1623" y="471" font-size="10" fill="#fff" color="#fff" textLength="33" lengthAdjust="spacingAndGlyphs">132.438</text>
<rect x="1619" y="497" width="41" height="11" fill="#ff0000"/>
<text class="tx" x="1623" y="506" font-size="10" fill="#fff" color="#fff" textLength="33" lengthAdjust="spacingAndGlyphs">131.973</text>
<rect x="1619" y="529" width="41" height="11" fill="#ffa500"/>
<text class="tx" x="1623" y="538" font-size="10" fill="#fff" color="#fff" textLength="33" lengthAdjust="spacingAndGlyphs">131.548</text>
<rect x="1619" y="541" width="41" height="11" fill="#000000"/>
<text class="tx" x="1623" y="550" font-size="10" fill="#fff" color="#fff" textLength="33" lengthAdjust="spacingAndGlyphs">131.402</text>
<rect x="1619" y="573" width="41" height="11" fill="#0000ff"/>
<text class="tx" x="1623" y="582" font-size="10" fill="#fff" color="#fff" textLength="33" lengthAdjust="spacingAndGlyphs">130.964</text>
<rect x="1619" y="602" width="41" height="11" fill="#0000ff"/>
<text class="tx" x="1623" y="611" font-size="10" fill="#fff" color="#fff" textLength="33" lengthAdjust="spacingAndGlyphs">130.579</text>
<g clip-path="url(#cmacd)">
<rect x="4" y="637" width="3" height="22" fill="#00ff00"/>
<rect x="20" y="640" width="3" height="19" fill="#00ff00"/>
<rect x="36" y="640" width="3" height="19" fill="#00ff00"/>
<rect x="52" y="643" width="3" height="16" fill="#00ff00"/>
<rect x="68" y="645" width="3" height="14" fill="#00ff00"/>
<rect x="84" y="650" width="3" height="9" fill="#00ff00"/>
<rect x="100" y="652" width="3" height="7" fill="#00ff00"/>
<rect x="116" y="657" width="3" height="2" fill="#00ff00"/>
<rect x="132" y="659" width="3" height="2" fill="#00ff00"/>
<rect x="148" y="659" width="3" height="2" fill="#00ff00"/>
<rect x="164" y="659" width="3" height="2" fill="#00ff00"/>
<rect x="180" y="659" width="3" height="2" fill="#00ff00"/>
<rect x="196" y="659" width="3" height="3" fill="#00ff00"/>
<rect x="212" y="659" width="3" height="3" fill="#00ff00"/>
<rect x="228" y="659" width="3" height="5" fill="#00ff00"/>
<rect x="244" y="659" width="3" height="4" fill="#00ff00"/>
<rect x="260" y="657" width="3" height="2" fill="#00ff00"/>
<rect x="276" y="651" width="3" height="8" fill="#00ff00"/>
<rect x="292" y="645" width="3" height="14" fill="#00ff00"/>
<rect x="308" y="639" width="3" height="20" fill="#00ff00"/>
<rect x="324" y="635" width="3" height="24" fill="#00ff00"/>
<rect x="340" y="634" width="3" height="25" fill="#00ff00"/>
<rect x="356" y="636" width="3" height="23" fill="#00ff00"/>
<rect x="372" y="635" width="3" height="24" fill="#00ff00"/>
<rect x="388" y="635" width="3" height="24" fill="#00ff00"/>
<rect x="404" y="637" width="3" height="22" fill="#00ff00"/>
<rect x="420" y="639" width="3" height="20" fill="#00ff00"/>
<rect x="436" y="645" width="3" height="14" fill="#00ff00"/>
<rect x="452" y="649" width="3" height="10" fill="#00ff00"/>
<rect x="468" y="653" width="3" height="6" fill="#00ff00"/>
<rect x="484" y="655" width="3" height="4" fill="#00ff00"/>
<rect x="500" y="656" width="3" height="3" fill="#00ff00"/>
<rect x="516" y="658" width="3" height="1" fill="#00ff00"/>
<rect x="532" y="657" width="3" height="2" fill="#00ff00"/>
<rect x="548" y="659" width="3" height="12" fill="#00ff00"/>
<rect x="564" y="659" width="3" height="20" fill="#00ff00"/>
<rect x="580" y="659" width="3" height="26" fill="#00ff00"/>
<rect x="596" y="659" width="3" height="34" fill="#00ff00"/>
<rect x="612" y="659" width="3" height="38" fill="#00ff00"/>
<rect x="628" y="659" width="3" height="48" fill="#00ff00"/>
<rect x="644" y="659" width="3" height="56" fill="#00ff00"/>
<rect x="660" y="659" width="3" height="61" fill="#00ff00"/>
<rect x="676" y="659" width="3" height="65" fill="#00ff00"/>
<rect x="692" y="659" width="3" height="64" fill="#00ff00"/>
<rect x="708" y="659" width="3" height="63" fill="#00ff00"/>
<rect x="724" y="659" width="3" height="59" fill="#00ff00"/>
<rect x="740" y="659" width="3" height="54" fill="#00ff00"/>
<rect x="756" y="659" width="3" height="49" fill="#00ff00"/>
<rect x="772" y="659" width="3" height="45" fill="#00ff00"/>
<rect x="788" y="659" width="3" height="41" fill="#00ff00"/>
<rect x="804" y="659" width="3" height="35" fill="#00ff00"/>
<rect x="820" y="659" width="3" height="37" fill="#00ff00"/>
<rect x="836" y="659" width="3" height="41" fill="#00ff00"/>
<rect x="852" y="659" width="3" height="44" fill="#00ff00"/>
<rect x="868" y="659" width="3" height="47" fill="#00ff00"/>
<rect x="884" y="659" width="3" height="49" fill="#00ff00"/>
<rect x="900" y="659" width="3" height="48" fill="#00ff00"/>
<rect x="916" y="659" width="3" height="49" fill="#00ff00"/>
<rect x="932" y="659" width="3" height="49" fill="#00ff00"/>
<rect x="948" y="659" width="3" height="44" fill="#00ff00"/>
<rect x="964" y="659" width="3" height="41" fill="#00ff00"/>
<rect x="980" y="659" width="3" height="39" fill="#00ff00"/>
<rect x="996" y="659" width="3" height="38" fill="#00ff00"/>
<rect x="1012" y="659" width="3" height="38" fill="#00ff00"/>
<rect x="1028" y="659" width="3" height="41" fill="#00ff00"/>
<rect x="1044" y="659" width="3" height="46" fill="#00ff00"/>
<rect x="1060" y="659" width="3" height="47" fill="#00ff00"/>
<rect x="1076" y="659" width="3" height="47" fill="#00ff00"/>
<rect x="1092" y="659" width="3" height="53" fill="#00ff00"/>
<rect x="1108" y="659" width="3" height="57" fill="#00ff00"/>
<rect x="1124" y="659" width="3" height="56" fill="#00ff00"/>
<rect x="1140" y="659" width="3" height="56" fill="#00ff00"/>
<rect x="1156" y="659" width="3" height="55" fill="#00ff00"/>
<rect x="1172" y="659" width="3" height="55" fill="#00ff00"/>
<rect x="1188" y="659" width="3" height="51" fill="#00ff00"/>
<rect x="1204" y="659" width="3" height="44" fill="#00ff00"/>
<rect x="1220" y="659" width="3" height="39" fill="#00ff00"/>
<rect x="1236" y="659" width="3" height="33" fill="#00ff00"/>
<rect x="1252" y="659" width="3" height="27" fill="#00ff00"/>
<rect x="1268" y="659" width="3" height="24" fill="#00ff00"/>
<rect x="1284" y="659" width="3" height="20" fill="#00ff00"/>
<rect x="1300" y="659" width="3" height="13" fill="#00ff00"/>
<rect x="1316" y="659" width="3" height="11" fill="#00ff00"/>
<rect x="1332" y="659" width="3" height="17" fill="#00ff00"/>
<rect x="1348" y="659" width="3" height="20" fill="#00ff00"/>
<polyline points="5,639.0 21,639.0 37,639.0 53,640.0 69,641.0 85,642.0 101,642.5 117,644.5 133,647.0 149,649.5 165,652.5 181,654.5 197,656.5 213,658.5 229,659.5 245,660.0 261,660.0 277,660.0 293,658.4 309,655.2 325,653.4 341,650.5 357,647.0 373,644.4 389,641.2 405,639.1 421,637.3 437,636.8 453,638.0 469,639.9 485,643.1 501,644.9 517,647.0 533,650.5 549,654.5 565,658.4 581,661.9 597,667.2 613,672.4 629,676.9 645,684.9 661,691.5 677,698.1 693,704.2 709,707.9 725,712.7 741,714.5 757,714.5 773,714.5 789,712.7 805,709.5 821,706.8 837,704.2 853,702.1 869,701.0 885,700.0 901,700.2 917,701.3 933,702.1 949,702.9 965,702.9 981,702.9 997,702.3 1013,701.0 1029,699.7 1045,699.7 1061,699.7 1077,700.0 1093,701.0 1109,703.4 1125,705.2 1141,706.8 1157,708.7 1173,710.5 1189,710.5 1205,710.5 1221,710.5 1237,707.9 1253,704.7 1269,702.1 1285,698.1 1301,693.6 1317,687.5 1333,684.1 1349,682.0" fill="none" stroke="#ff0000" stroke-width="2" shape-rendering="crispEdges"/>
</g>
<rect x="4.5" y="628.5" width="1613" height="100" fill="none" stroke="#000"/>
<text class="tx" x="10" y="641" font-size="10" fill="#000" color="#000" textLength="133" lengthAdjust="spacingAndGlyphs">MACD(12,26,9) -0.2636 -0.2964</text>
<rect x="1618" y="630" width="1" height="1" fill="#000"/>
<rect x="1618" y="659" width="2" height="1" fill="#000"/>
<text class="tx" x="1621" y="639" font-size="10" fill="#000" color="#000" textLength="27" lengthAdjust="spacingAndGlyphs">0.3945</text>
<text class="tx" x="1621" y="663" font-size="10" fill="#000" color="#000" textLength="17.5" lengthAdjust="spacingAndGlyphs">0.00</text>
<text class="tx" x="1621" y="725" font-size="10" fill="#000" color="#000" textLength="26" lengthAdjust="spacingAndGlyphs">-0.923</text>
<g clip-path="url(#crsi)">
<line x1="6" y1="749.5" x2="1617" y2="749.5" stroke="#000" stroke-dasharray="3 3"/>
<line x1="6" y1="775.5" x2="1617" y2="775.5" stroke="#000" stroke-dasharray="3 3"/>
<line x1="6" y1="806.5" x2="1617" y2="806.5" stroke="#000" stroke-dasharray="3 3"/>
<polyline points="5,766.8 21,766.8 37,772.0 50,777.9 56,777.9 66,774.4 72,774.4 82,780.0 88,780.0 98,778.6 104,778.6 114,783.7 120,783.7 133,781.3 146,775.7 152,775.7 165,776.5 181,776.5 197,776.5 213,777.0 226,780.0 232,780.0 245,775.7 261,766.8 277,764.1 293,761.2 306,758.6 312,758.6 325,763.3 341,766.5 354,770.7 360,770.7 370,767.8 376,767.8 389,768.1 405,772.6 421,773.1 437,779.7 453,779.7 466,781.0 472,781.0 485,777.9 498,776.5 504,776.5 514,777.9 520,777.9 530,773.6 536,773.6 546,792.9 552,792.9 565,787.9 578,786.8 584,786.8 594,791.1 600,791.1 610,787.9 616,787.9 629,793.7 645,793.7 658,791.9 664,791.9 674,792.9 680,792.9 693,786.8 709,786.8 725,781.6 741,780.5 757,780.5 773,779.7 789,779.7 802,775.2 808,775.2 821,784.5 834,787.9 840,787.9 850,786.2 856,786.2 869,786.3 882,787.1 888,787.1 898,785.0 904,785.0 914,787.1 920,787.1 933,783.7 949,780.0 965,780.0 981,781.3 997,781.8 1013,785.0 1029,789.0 1042,791.1 1048,791.1 1058,785.0 1064,785.0 1077,786.3 1093,791.1 1109,791.1 1125,787.1 1141,787.1 1157,787.1 1170,787.9 1176,787.9 1189,780.5 1205,777.1 1221,776.5 1237,776.5 1253,775.7 1269,775.7 1285,774.4 1298,772.0 1304,772.0 1317,773.9 1330,787.1 1336,787.1 1349,785.0" fill="none" stroke="#1e90ff" stroke-width="2" shape-rendering="crispEdges"/>
</g>
<rect x="4.5" y="730.5" width="1613" height="90" fill="none" stroke="#000"/>
<text class="tx" x="9" y="743" font-size="10" fill="#000" color="#000" textLength="67" lengthAdjust="spacingAndGlyphs">RSI(14) 40.0189</text>
<text class="tx" x="1621" y="741" font-size="10" fill="#000" color="#000" textLength="15" lengthAdjust="spacingAndGlyphs">100</text>
<text class="tx" x="1620" y="752.5" font-size="10" fill="#000" color="#000" textLength="10" lengthAdjust="spacingAndGlyphs">80</text>
<text class="tx" x="1620" y="778.5" font-size="10" fill="#000" color="#000" textLength="10" lengthAdjust="spacingAndGlyphs">50</text>
<text class="tx" x="1620" y="809.5" font-size="10" fill="#000" color="#000" textLength="10" lengthAdjust="spacingAndGlyphs">15</text>
<text class="tx" x="1621" y="816.5" font-size="10" fill="#000" color="#000" textLength="5" lengthAdjust="spacingAndGlyphs">0</text>
<rect x="1618" y="819" width="1" height="1" fill="#000"/>
<rect x="1618" y="732" width="1" height="1" fill="#000"/>
<rect x="5" y="821" width="1" height="3" fill="#000"/>
<text class="tx" x="4" y="833" font-size="10" fill="#000" color="#000" textLength="47" lengthAdjust="spacingAndGlyphs">2 Mar 2023</text>
<rect x="69" y="821" width="1" height="3" fill="#000"/>
<text class="tx" x="68" y="833" font-size="10" fill="#000" color="#000" textLength="49.5" lengthAdjust="spacingAndGlyphs">3 Mar 12:00</text>
<rect x="133" y="821" width="1" height="3" fill="#000"/>
<text class="tx" x="132" y="833" font-size="10" fill="#000" color="#000" textLength="49.5" lengthAdjust="spacingAndGlyphs">6 Mar 04:00</text>
<rect x="197" y="821" width="1" height="3" fill="#000"/>
<text class="tx" x="196" y="833" font-size="10" fill="#000" color="#000" textLength="49.5" lengthAdjust="spacingAndGlyphs">6 Mar 20:00</text>
<rect x="261" y="821" width="1" height="3" fill="#000"/>
<text class="tx" x="260" y="833" font-size="10" fill="#000" color="#000" textLength="49.5" lengthAdjust="spacingAndGlyphs">7 Mar 12:00</text>
<rect x="325" y="821" width="1" height="3" fill="#000"/>
<text class="tx" x="324" y="833" font-size="10" fill="#000" color="#000" textLength="49.5" lengthAdjust="spacingAndGlyphs">8 Mar 04:00</text>
<rect x="389" y="821" width="1" height="3" fill="#000"/>
<text class="tx" x="388" y="833" font-size="10" fill="#000" color="#000" textLength="49.5" lengthAdjust="spacingAndGlyphs">8 Mar 20:00</text>
<rect x="453" y="821" width="1" height="3" fill="#000"/>
<text class="tx" x="452" y="833" font-size="10" fill="#000" color="#000" textLength="49.5" lengthAdjust="spacingAndGlyphs">9 Mar 12:00</text>
<rect x="517" y="821" width="1" height="3" fill="#000"/>
<text class="tx" x="516" y="833" font-size="10" fill="#000" color="#000" textLength="54.5" lengthAdjust="spacingAndGlyphs">10 Mar 04:00</text>
<rect x="581" y="821" width="1" height="3" fill="#000"/>
<text class="tx" x="580" y="833" font-size="10" fill="#000" color="#000" textLength="54.5" lengthAdjust="spacingAndGlyphs">12 Mar 23:00</text>
<rect x="645" y="821" width="1" height="3" fill="#000"/>
<text class="tx" x="644" y="833" font-size="10" fill="#000" color="#000" textLength="54.5" lengthAdjust="spacingAndGlyphs">13 Mar 12:00</text>
<rect x="709" y="821" width="1" height="3" fill="#000"/>
<text class="tx" x="708" y="833" font-size="10" fill="#000" color="#000" textLength="54.5" lengthAdjust="spacingAndGlyphs">14 Mar 04:00</text>
<rect x="773" y="821" width="1" height="3" fill="#000"/>
<text class="tx" x="772" y="833" font-size="10" fill="#000" color="#000" textLength="54.5" lengthAdjust="spacingAndGlyphs">14 Mar 20:00</text>
<rect x="837" y="821" width="1" height="3" fill="#000"/>
<text class="tx" x="836" y="833" font-size="10" fill="#000" color="#000" textLength="54.5" lengthAdjust="spacingAndGlyphs">15 Mar 12:00</text>
<rect x="901" y="821" width="1" height="3" fill="#000"/>
<text class="tx" x="900" y="833" font-size="10" fill="#000" color="#000" textLength="54.5" lengthAdjust="spacingAndGlyphs">16 Mar 04:00</text>
<rect x="965" y="821" width="1" height="3" fill="#000"/>
<text class="tx" x="964" y="833" font-size="10" fill="#000" color="#000" textLength="54.5" lengthAdjust="spacingAndGlyphs">16 Mar 20:00</text>
<rect x="1029" y="821" width="1" height="3" fill="#000"/>
<text class="tx" x="1028" y="833" font-size="10" fill="#000" color="#000" textLength="54.5" lengthAdjust="spacingAndGlyphs">17 Mar 12:00</text>
<rect x="1093" y="821" width="1" height="3" fill="#000"/>
<text class="tx" x="1092" y="833" font-size="10" fill="#000" color="#000" textLength="54.5" lengthAdjust="spacingAndGlyphs">20 Mar 04:00</text>
<rect x="1157" y="821" width="1" height="3" fill="#000"/>
<text class="tx" x="1156" y="833" font-size="10" fill="#000" color="#000" textLength="54.5" lengthAdjust="spacingAndGlyphs">20 Mar 20:00</text>
<rect x="1221" y="821" width="1" height="3" fill="#000"/>
<text class="tx" x="1220" y="833" font-size="10" fill="#000" color="#000" textLength="54.5" lengthAdjust="spacingAndGlyphs">21 Mar 12:00</text>
<rect x="1285" y="821" width="1" height="3" fill="#000"/>
<text class="tx" x="1284" y="833" font-size="10" fill="#000" color="#000" textLength="54.5" lengthAdjust="spacingAndGlyphs">22 Mar 04:00</text>
<rect x="1349" y="821" width="1" height="3" fill="#000"/>
<text class="tx" x="1348" y="833" font-size="10" fill="#000" color="#000" textLength="54.5" lengthAdjust="spacingAndGlyphs">22 Mar 20:00</text>
</svg>
</body></html>
